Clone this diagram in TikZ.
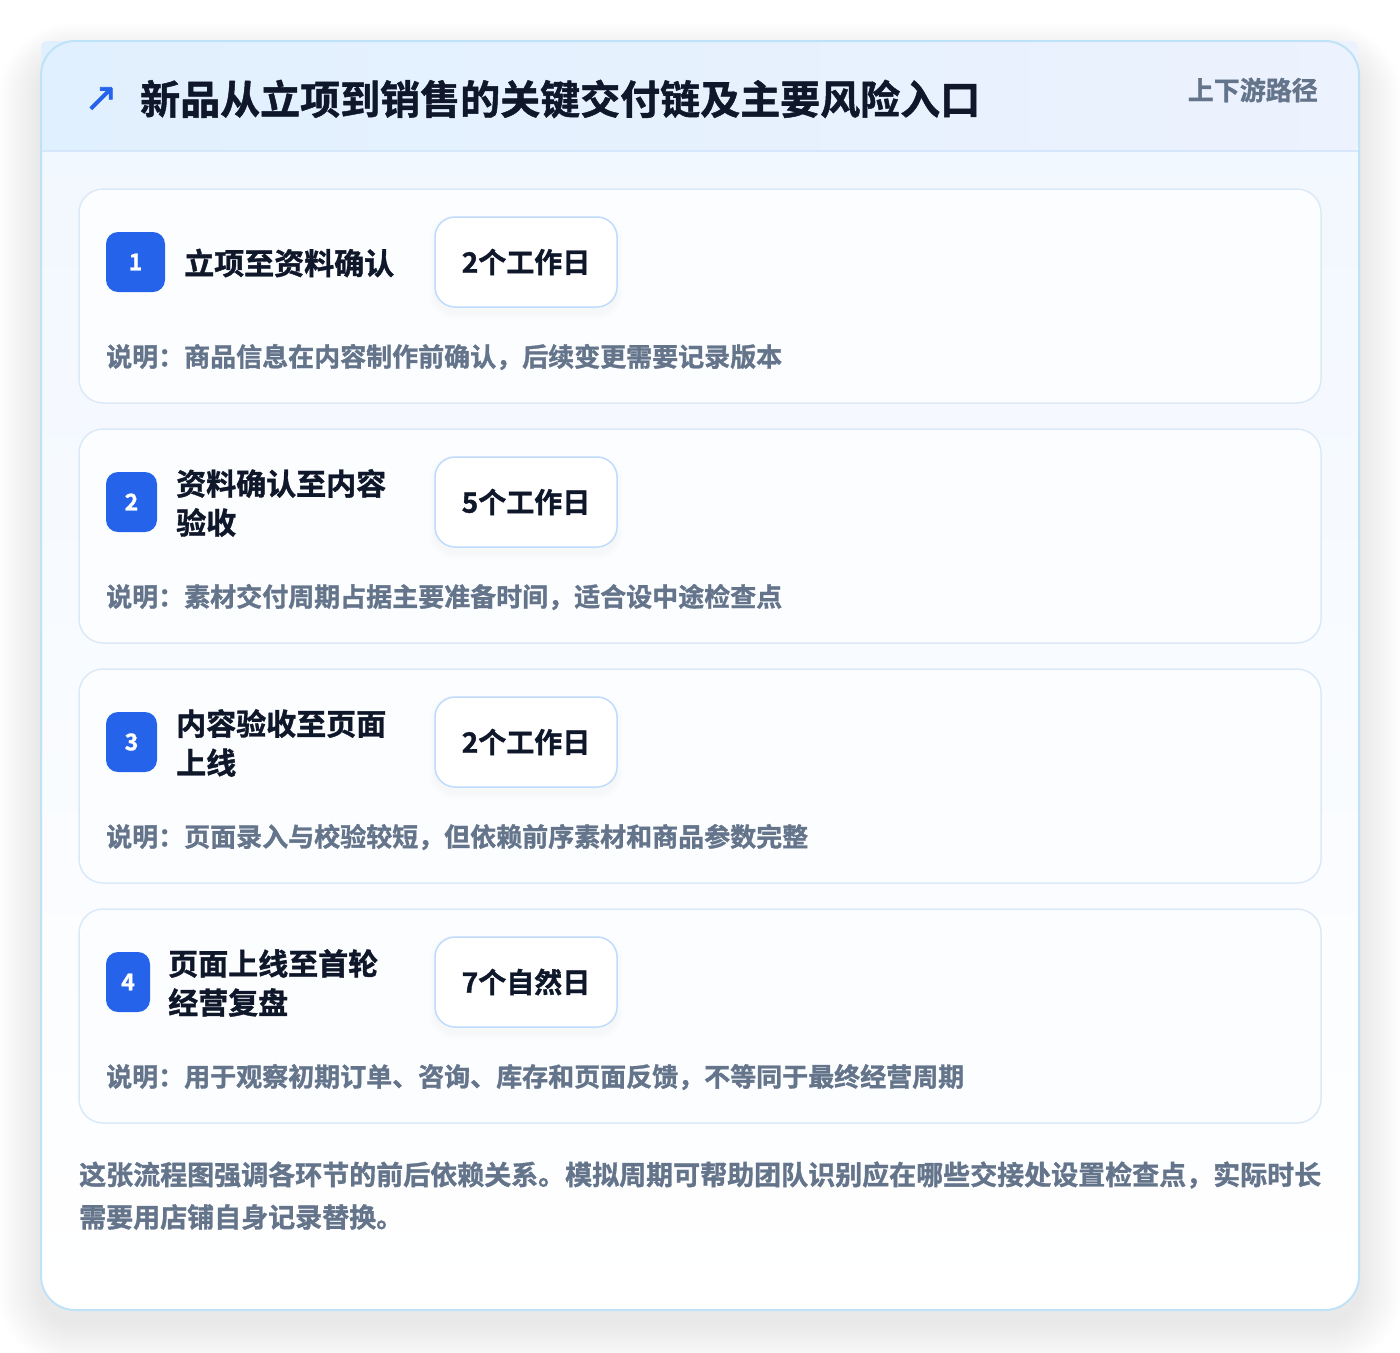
\documentclass[tikz,border=0pt]{standalone}
\usepackage{fontspec}
\newfontfamily\cjk{Noto Sans CJK SC}[UprightFont=*, BoldFont=* Bold, BoldFeatures={FakeBold=1.2}]
\newfontfamily\symfont{DejaVu Sans}[FakeBold=1.5]
\definecolor{ink}{HTML}{0F172A}
\definecolor{muted}{HTML}{64748B}
\definecolor{brand}{HTML}{2563EB}
\definecolor{cardborder}{HTML}{BEE3F8}
\definecolor{hdrL}{HTML}{E1F0FE}
\definecolor{hdrR}{HTML}{ECF2FE}
\definecolor{hdrline}{HTML}{D6E7FB}
\definecolor{bodytop}{HTML}{F1F7FF}
\definecolor{stepborder}{HTML}{DCE9F7}
\definecolor{stepfill}{HTML}{FCFDFF}
\definecolor{durborder}{HTML}{BFDBFE}
\tikzset{
  txt/.style={inner sep=0pt, font=\cjk\bfseries},
  stepcard/.style={draw=stepborder, line width=1.5pt, fill=stepfill, rounded corners=24pt,
    minimum width=1242pt, minimum height=214pt, inner sep=0pt},
  badge/.style={fill=brand, rounded corners=12pt, inner sep=0pt, text=white,
    font=\cjk\bfseries\fontsize{23}{23}\selectfont},
  steptitle/.style={txt, text=ink, align=left, font=\cjk\bfseries\fontsize{30}{39}\selectfont},
  durbox/.style={draw=durborder, line width=1.5pt, fill=white, rounded corners=20pt,
    minimum width=182pt, minimum height=90pt, inner sep=0pt, text=ink,
    font=\cjk\bfseries\fontsize{28}{28}\selectfont},
  desc/.style={txt, text=muted, font=\cjk\bfseries\fontsize{26}{26}\selectfont},
  foot/.style={txt, text=muted, font=\cjk\bfseries\fontsize{27}{27}\selectfont},
}
\begin{document}
\begin{tikzpicture}[x=1pt,y=-1pt]
\useasboundingbox (0,0) rectangle (1400,1352);
\fill[white] (0,0) rectangle (1400,1352);
% outer shadow
\foreach \i in {2,4,...,44}{
  \fill[black, opacity=0.0045, rounded corners=34pt+\i pt] (41-\i, 58-0.8*\i) rectangle (1359+\i, 1324+\i);
}
% main card
\shade[top color=bodytop, bottom color=white, rounded corners=34pt] (41,41) rectangle (1359,1310);
\shade[left color=hdrL, right color=hdrR, rounded corners=6pt] (41,41) rectangle (1358,151);
\draw[hdrline, line width=1.5pt] (41,151) -- (1358,151);
\draw[cardborder, line width=2pt, rounded corners=34pt] (41,41) rectangle (1359,1310);
% header texts
\node[inner sep=0pt, text=brand, font=\symfont\fontsize{40}{40}\selectfont] (arrow) at (101,99) {↗};
\node[txt, anchor=west, text=ink, font=\cjk\bfseries\fontsize{40}{40}\selectfont] (title) at (140,99) {新品从立项到销售的关键交付链及主要风险入口};
\node[txt, anchor=east, text=muted, font=\cjk\bfseries\fontsize{26}{26}\selectfont] (tag) at (1318,90) {上下游路径};
% steps
\foreach \n/\top/\bw/\tx/\ttl/\dur/\dsc in {
  1/189/59/184/{立项至资料确认}/{2个工作日}/{说明：商品信息在内容制作前确认，后续变更需要记录版本},
  2/429/51/176/{资料确认至内容\\验收}/{5个工作日}/{说明：素材交付周期占据主要准备时间，适合设中途检查点},
  3/669/51/176/{内容验收至页面\\上线}/{2个工作日}/{说明：页面录入与校验较短，但依赖前序素材和商品参数完整},
  4/909/44/168/{页面上线至首轮\\经营复盘}/{7个自然日}/{说明：用于观察初期订单、咨询、库存和页面反馈，不等同于最终经营周期}}{
  \node[stepcard] (card\n) at (700, \top+107) {};
  \node[badge, minimum width=\bw pt, minimum height=60pt] (badge\n) at (106+\bw/2, \top+73) {\n};
  \node[steptitle, anchor=west] (title\n) at (\tx, \top+74) {\ttl};
  \foreach \k in {1,...,6}{
    \fill[black!40!blue!30, opacity=0.012, rounded corners=20pt+\k pt] (435-\k, \top+32-\k) rectangle (617+\k, \top+124+\k);
  }
  \node[durbox] (dur\n) at (526, \top+73) {\dur};
  \node[desc, anchor=west] (desc\n) at (106, \top+168) {\dsc};
}
% footer
\node[foot, anchor=west] (foot1) at (79,1175) {这张流程图强调各环节的前后依赖关系。模拟周期可帮助团队识别应在哪些交接处设置检查点，实际时长};
\node[foot, anchor=west] (foot2) at (79,1217) {需要用店铺自身记录替换。};
\end{tikzpicture}
\end{document}
